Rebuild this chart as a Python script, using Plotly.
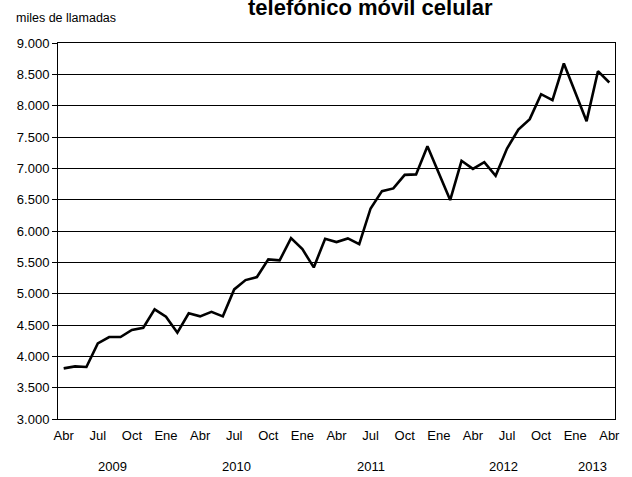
import plotly.graph_objects as go

# Monthly values, Abr 2009 .. Abr 2013 (miles de llamadas)
values = [3808, 3840, 3830, 4207, 4308, 4308, 4420, 4456, 4750, 4632,
          4377, 4686, 4638, 4711, 4638, 5068, 5217, 5265, 5547, 5531,
          5887, 5710, 5419, 5876, 5823, 5882, 5791, 6360, 6636, 6679,
          6896, 6903, 7354, 6924, 6493, 7120, 6992, 7099, 6880, 7317,
          7620, 7785, 8183, 8088, 8673, 8213, 7753, 8550, 8370]
x_idx = list(range(len(values)))

month_ticks = ["Abr", "Jul", "Oct", "Ene", "Abr", "Jul", "Oct", "Ene", "Abr",
               "Jul", "Oct", "Ene", "Abr", "Jul", "Oct", "Ene", "Abr"]
tick_positions = list(range(0, 49, 3))

years = ["2009", "2010", "2011", "2012", "2013"]
year_pos = [4.3, 15.2, 27.0, 38.7, 46.5]

y_ticks = list(range(3000, 9001, 500))

fig = go.Figure()
fig.add_trace(go.Scatter(x=x_idx, y=values, mode="lines",
                         line=dict(color="black", width=2.6),
                         hoverinfo="skip", showlegend=False))

font = "Liberation Sans, Arial, sans-serif"

fig.update_layout(
    width=632, height=477,
    margin=dict(l=58, r=17, t=43, b=58),
    paper_bgcolor="white", plot_bgcolor="white",
    separators=",.",
    font=dict(family=font, size=13, color="black"),
    xaxis=dict(range=[-0.5, 48.5], tickmode="array", tickvals=tick_positions,
               ticktext=month_ticks, ticks="", showgrid=False, zeroline=False,
               showline=True, linecolor="black", linewidth=1, mirror=True,
               ticklabelstandoff=4,
               tickfont=dict(size=13), fixedrange=True),
    yaxis=dict(range=[3000, 9000], tickmode="array", tickvals=y_ticks,
               tickformat=",", ticks="outside", ticklen=5, tickcolor="black",
               showgrid=True, gridcolor="black", gridwidth=1, zeroline=False,
               showline=True, linecolor="black", linewidth=1, mirror=True,
               tickfont=dict(size=13), fixedrange=True),
)

annotations = []
for yr, p in zip(years, year_pos):
    annotations.append(dict(x=p, y=0, xref="x", yref="paper", text=yr,
                            showarrow=False, yanchor="middle", yshift=-47,
                            font=dict(size=13)))
annotations.append(dict(x=14, y=18, xref="paper", yref="paper", text="miles de llamadas",
                        showarrow=False, xanchor="left", yanchor="middle",
                        font=dict(size=12.5)))
annotations.append(dict(x=370, y=7, xref="paper", yref="paper",
                        text="<b>telefónico móvil celular</b>",
                        showarrow=False, xanchor="center", yanchor="middle",
                        font=dict(size=22)))
fig.update_layout(annotations=annotations)

# convert pixel-placed annotations to paper coordinates
pw, ph = 632 - 58 - 17, 477 - 43 - 58
for a in fig.layout.annotations:
    if a.xref == "paper" and a.yref == "paper":
        px, py = a.x, a.y
        a.x = (px - 58) / pw
        a.y = 1 + (43 - py) / ph

fig.write_html("out.html", config={"displayModeBar": False},
               post_script="document.body.style.margin='0';document.body.style.overflow='hidden';")
